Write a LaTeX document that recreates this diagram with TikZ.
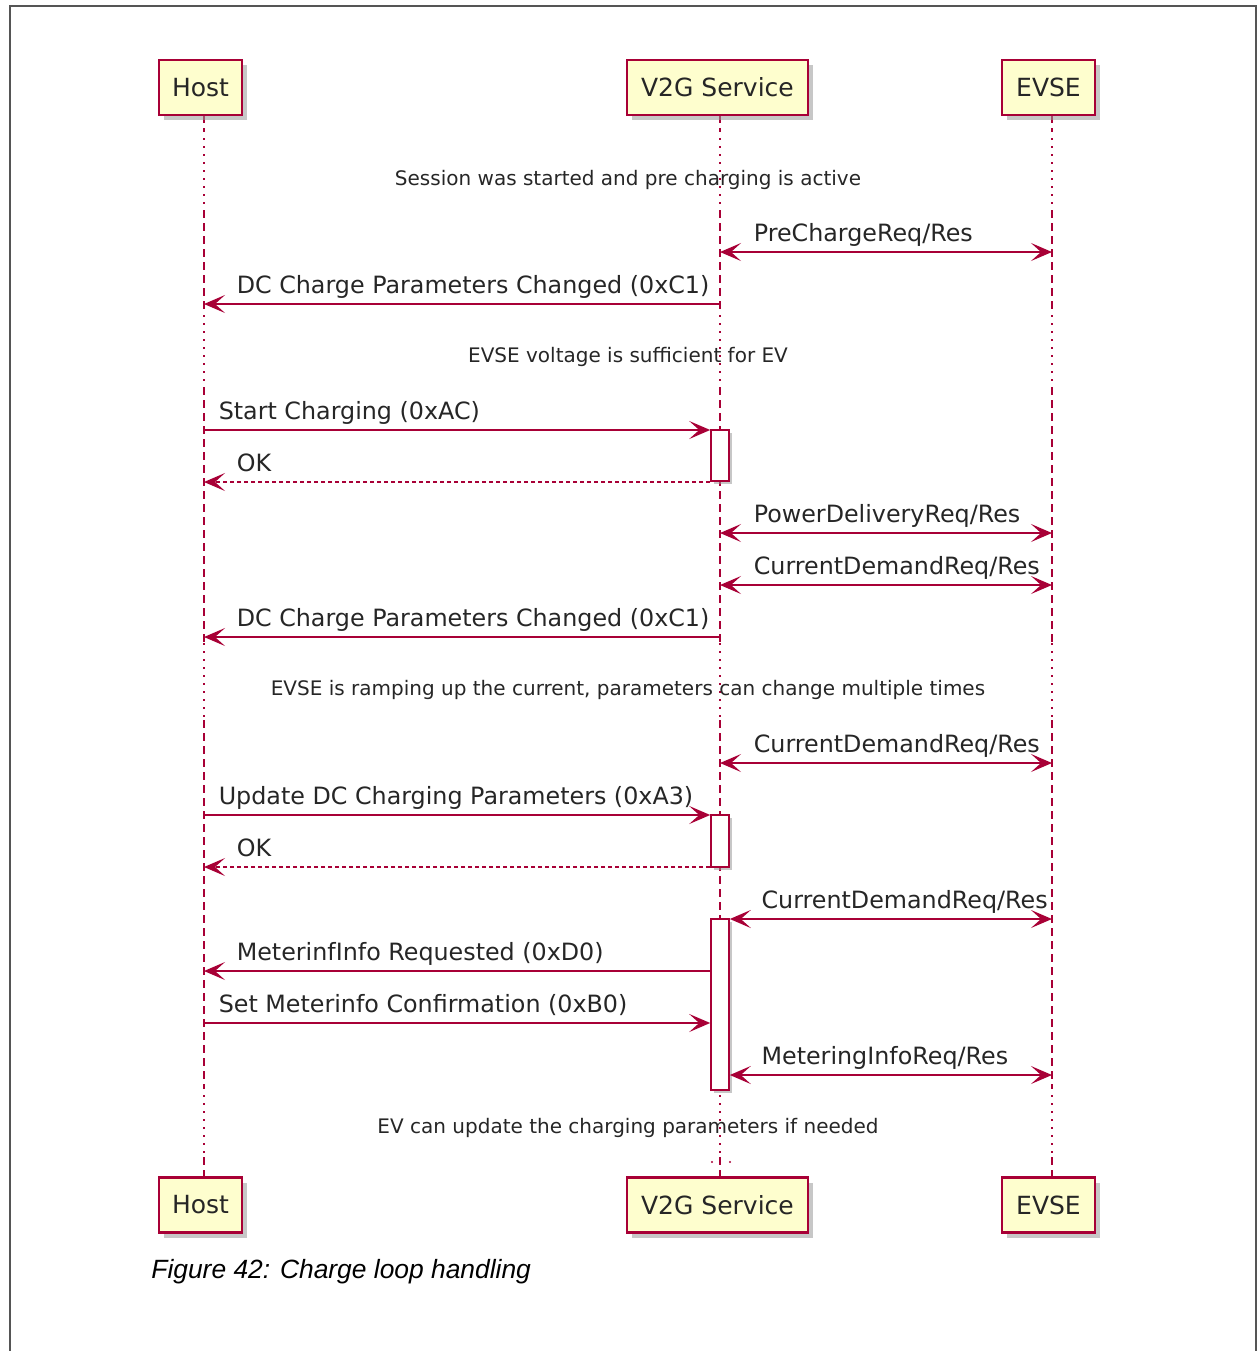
\documentclass[tikz,border=0pt]{standalone}
\usepackage{fontspec}
\setmainfont{DejaVu Sans}
\newfontfamily\capfont{Liberation Sans}
\usepackage{xcolor}
\usepackage{tikz}
\usetikzlibrary{arrows.meta,shadows}

\definecolor{umlred}{HTML}{A80036}
\definecolor{umlfill}{HTML}{FEFECE}
\definecolor{framegray}{HTML}{555555}

\tikzset{
  part/.style={draw=umlred, line width=1.2pt, fill=umlfill, minimum height=27.5pt,
    inner sep=0pt, text=black!85, font=\fontsize{12.5}{15}\selectfont,
    drop shadow={shadow xshift=2.5pt, shadow yshift=-2.5pt, fill=black!40, opacity=.55}},
  act/.style={draw=umlred, line width=0.8pt, fill=white, minimum width=9pt, inner sep=0pt,
    drop shadow={shadow xshift=1.5pt, shadow yshift=-1.5pt, fill=black!40, opacity=.55}},
  life/.style={umlred, line width=0.75pt, dash pattern=on 4pt off 2.5pt},
  pause/.style={umlred, line width=0.75pt, dash pattern=on 0.8pt off 3.2pt},
  msg/.style={umlred, line width=0.8pt, -{Stealth[length=10.5pt,width=9pt,inset=5pt]}},
  reply/.style={msg, dash pattern=on 2pt off 1.5pt},
  both/.style={umlred, line width=0.8pt, {Stealth[length=10.5pt,width=9pt,inset=5pt]}-{Stealth[length=10.5pt,width=9pt,inset=5pt]}},
  lbl/.style={anchor=base west, inner sep=0pt, yshift=5.5pt, text=black!85, font=\fontsize{11.9}{14}\selectfont},
  delaytxt/.style={anchor=base, inner sep=0pt, text=black!85, font=\fontsize{10}{12}\selectfont}
}

\begin{document}
\begin{tikzpicture}[x=0.5pt, y=-0.5pt]
\useasboundingbox (0,0) rectangle (1257,1351);
\draw[framegray, line width=0.8pt] (10,1351) |- (1256,6) -- (1256,1351);

% lifelines
\coordinate (hostL) at (204,0);
\coordinate (v2gL) at (720,0);
\coordinate (evseL) at (1052,0);
\foreach \p in {hostL,v2gL,evseL}{
  \draw[life] (\p |- 0,115) -- (\p |- 0,130) (\p |- 0,210) -- (\p |- 0,307)
    (\p |- 0,387) -- (\p |- 0,643) (\p |- 0,720) -- (\p |- 0,1087) (\p |- 0,1157) -- (\p |- 0,1180);
  \draw[pause] (\p |- 0,130) -- (\p |- 0,210) (\p |- 0,307) -- (\p |- 0,387)
    (\p |- 0,643) -- (\p |- 0,720) (\p |- 0,1087) -- (\p |- 0,1157);
}
\fill[umlred] (712,1162) circle (0.6pt) (730,1162) circle (0.6pt);

% participants
\node[part, minimum width=41.5pt] (hostTop) at (200.5,87.5) {Host};
\node[part, minimum width=90.5pt] (v2gTop) at (717.5,87.5) {V2G Service};
\node[part, minimum width=46.5pt] (evseTop) at (1048.5,87.5) {EVSE};
\node[part, minimum width=41.5pt] (hostBot) at (200.5,1205) {Host};
\node[part, minimum width=90.5pt] (v2gBot) at (717.5,1205) {V2G Service};
\node[part, minimum width=46.5pt] (evseBot) at (1048.5,1205) {EVSE};

% activations
\node[act, minimum height=25.5pt] (act1) at (720,455.5) {};
\node[act, minimum height=26pt] (act2) at (720,841) {};
\node[act, minimum height=85.5pt] (act3) at (720,1004.5) {};

% rows
\coordinate (r1) at (0,252);
\coordinate (r2) at (0,304);
\coordinate (r3) at (0,430);
\coordinate (r4) at (0,482);
\coordinate (r5) at (0,533);
\coordinate (r6) at (0,585);
\coordinate (r7) at (0,637);
\coordinate (r8) at (0,763);
\coordinate (r9) at (0,815);
\coordinate (r10) at (0,867);
\coordinate (r11) at (0,919);
\coordinate (r12) at (0,971);
\coordinate (r13) at (0,1023);
\coordinate (r14) at (0,1075);

% delays
\node[delaytxt] (d1) at (628,185) {Session was started and pre charging is active};
\node[delaytxt] (d2) at (628,362) {EVSE voltage is sufficient for EV};
\node[delaytxt] (d3) at (628,695) {EVSE is ramping up the current, parameters can change multiple times};
\node[delaytxt] (d4) at (628,1133) {EV can update the charging parameters if needed};

% messages
\draw[both] (v2gL |- r1) -- (evseL |- r1) node[lbl, pos=0, xshift=16.5pt] {PreChargeReq/Res};
\draw[msg] (v2gL |- r2) -- (hostL |- r2) node[lbl, pos=1, xshift=16pt] {DC Charge Parameters Changed (0xC1)};
\draw[msg] (hostL |- r3) -- (act1.west |- r3) node[lbl, pos=0, xshift=7pt] {Start Charging (0xAC)};
\draw[reply] (act1.west |- r4) -- (hostL |- r4) node[lbl, pos=1, xshift=16pt] {OK};
\draw[both] (v2gL |- r5) -- (evseL |- r5) node[lbl, pos=0, xshift=16.5pt] {PowerDeliveryReq/Res};
\draw[both] (v2gL |- r6) -- (evseL |- r6) node[lbl, pos=0, xshift=16.5pt] {CurrentDemandReq/Res};
\draw[msg] (v2gL |- r7) -- (hostL |- r7) node[lbl, pos=1, xshift=16pt] {DC Charge Parameters Changed (0xC1)};
\draw[both] (v2gL |- r8) -- (evseL |- r8) node[lbl, pos=0, xshift=16.5pt] {CurrentDemandReq/Res};
\draw[msg] (hostL |- r9) -- (act2.west |- r9) node[lbl, pos=0, xshift=7pt] {Update DC Charging Parameters (0xA3)};
\draw[reply] (act2.west |- r10) -- (hostL |- r10) node[lbl, pos=1, xshift=16pt] {OK};
\draw[both] (act3.east |- r11) -- (evseL |- r11) node[lbl, pos=0, xshift=15.5pt] {CurrentDemandReq/Res};
\draw[msg] (act3.west |- r12) -- (hostL |- r12) node[lbl, pos=1, xshift=16pt] {MeterinfInfo Requested (0xD0)};
\draw[msg] (hostL |- r13) -- (act3.west |- r13) node[lbl, pos=0, xshift=7pt] {Set Meterinfo Confirmation (0xB0)};
\draw[both] (act3.east |- r14) -- (evseL |- r14) node[lbl, pos=0, xshift=15.5pt] {MeteringInfoReq/Res};

% caption
\node[anchor=base west, inner sep=0pt, font=\capfont\itshape\fontsize{13.2}{16}\selectfont] (caption) at (151,1278) {Figure 42: Charge loop handling};
\end{tikzpicture}
\end{document}
